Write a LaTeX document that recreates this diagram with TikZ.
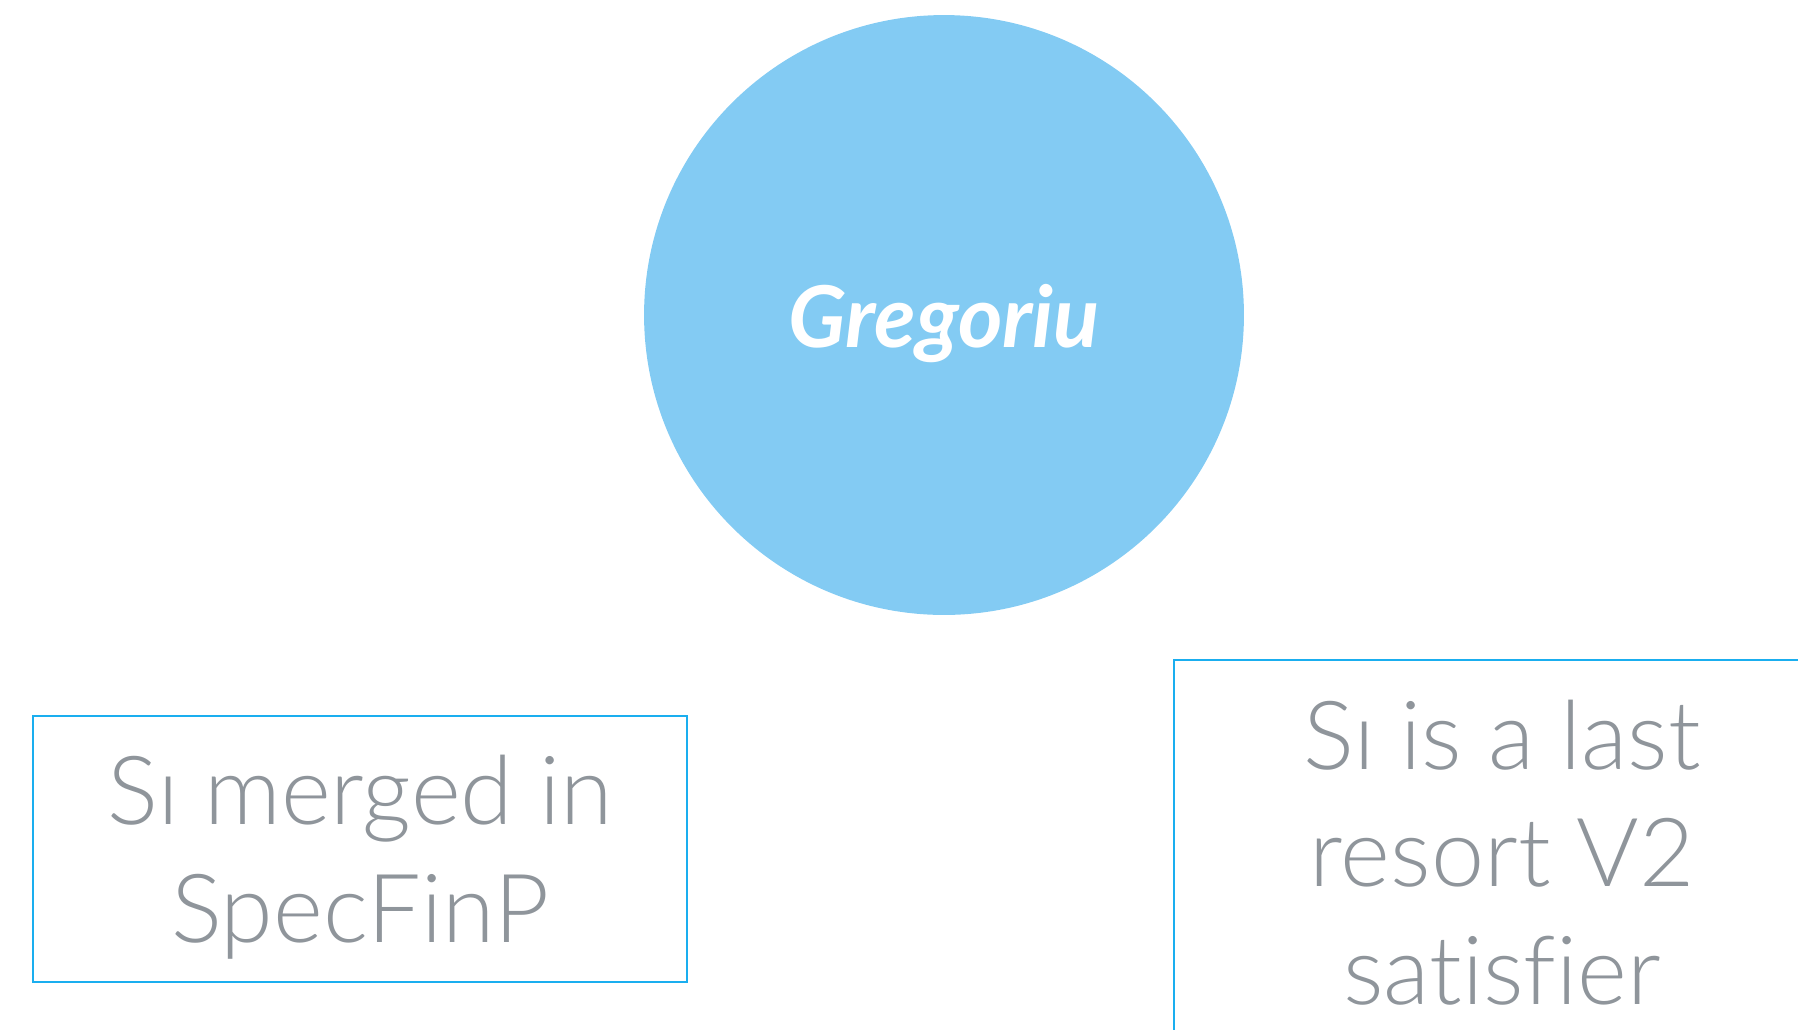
\documentclass[tikz,border=0pt]{standalone}
\usepackage{fontspec}
\setmainfont{Lato}
\newfontfamily\lightfont{Lato Light}[Ligatures=NoCommon]
\definecolor{bubbleblue}{RGB}{131,203,243}
\definecolor{boxblue}{RGB}{26,174,239}
\definecolor{textgray}{RGB}{143,149,155}
\begin{document}
\begin{tikzpicture}
[x=0.02cm, y=-0.02cm,
  bubbledecorate/.style={shape=circle,fill=bubbleblue,minimum size=12cm,inner sep=0pt,%
    text=white,font=\fontsize{48.5pt}{58pt}\selectfont\bfseries\itshape,%
    text height=1.3cm,text depth=0pt},
  boxdecorate/.style={shape=rectangle,draw=boxblue,line width=1.1pt,inner sep=0pt,%
    text=textgray,align=center,text depth=0pt,%
    font=\lightfont\fontsize{54.3pt}{66.9pt}\selectfont}]
\useasboundingbox (0,0) rectangle (1798,1029);
%% the bubble
\node (gregoriu) at (944,315) [bubbledecorate] {Gregoriu};
%% the boxes
\foreach \nodename/\x/\y/\w/\h/\content in {merged/360/849/13.08cm/5.32cm/{Sɪ merged in\\SpecFinP},
  resort/1502/852/13.12cm/7.68cm/{Sɪ is a last\\resort V2\\satisfier}}
{
  \node (\nodename) at (\x,\y) [boxdecorate,minimum width=\w,minimum height=\h] {\content};
}
\end{tikzpicture}
\end{document}
